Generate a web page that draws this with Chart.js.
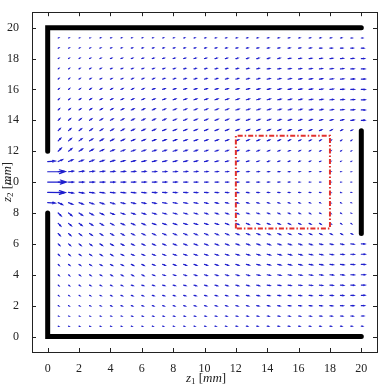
<!DOCTYPE html>
<html>
<head>
<meta charset="utf-8">
<script src="https://cdn.jsdelivr.net/npm/chart.js@4.4.0/dist/chart.umd.min.js"></script>
<style>
  html, body { margin: 0; padding: 0; background: #fff; }
  #wrap { width: 381px; height: 385px; }
</style>
</head>
<body>
<div id="wrap"><canvas id="quiverChart" width="381" height="385"></canvas></div>
<script>
// grid of the vector field (mm)
const gridX = [0, 0.67, 1.33, 2, 2.67, 3.33, 4, 4.67, 5.33, 6, 6.67, 7.33, 8, 8.67, 9.33, 10,
  10.67, 11.33, 12, 12.67, 13.33, 14, 14.67, 15.33, 16, 16.67, 17.33, 18, 18.67, 19.33, 20];
// rows from top (z2 = 20) to bottom (z2 = 0)
const gridY = [20, 19.33, 18.67, 18, 17.33, 16.67, 16, 15.33, 14.67, 14, 13.33, 12.67, 12, 11.33,
  10.67, 10, 9.33, 8.67, 8, 7.33, 6.67, 6, 5.33, 4.67, 4, 3.33, 2.67, 2, 1.33, 0.67, 0];

// arrow components (arbitrary velocity units)
const uRows = [
  [0,0,0,0,0,0,0,0,0,0,0,0,0,0,0,0,0,0,0,0,0,0,0,0,0,0,0,0,0,0,0],
  [0, .3,.3,.4,.4, .5,.5,.5,.5,.5,.5,.6,.6, .7,.7,.8,.8,.8,.9,.9,.9, 1,1,1,1,1,1, 1,1,1, 1],
  [0, .4,.5,.5,.5, .6,.7,.7,.8,.8,.9,.9,1, 1,1,1.1,1.1,1.2,1.2,1.3,1.3, 1.4,1.4,1.5,1.5,1.6,1.6, 1.7,1.7,1.8, 2],
  [0, .5,.5,.6,.7, .8,.9,1,1,1.1,1.1,1.2,1.2, 1.3,1.4,1.4,1.5,1.5,1.6,1.6,1.7, 1.8,1.8,1.9,1.9,2,2, 2.1,2.2,2.3, 2.5],
  [0, .5,.6,.7,.8, .9,1,1.1,1.2,1.2,1.3,1.4,1.4, 1.5,1.6,1.6,1.7,1.7,1.8,1.9,1.9, 2,2,2.1,2.1,2.2,2.2, 2.3,2.4,2.5, 2.8],
  [0, .6,.7,.8,1, 1.1,1.2,1.3,1.4,1.4,1.5,1.6,1.6, 1.7,1.8,1.8,1.9,1.9,2,2,2.1, 2.2,2.2,2.3,2.3,2.4,2.4, 2.5,2.6,2.7, 3],
  [0, .7,.8,1,1.1, 1.3,1.4,1.5,1.6,1.6,1.7,1.8,1.8, 1.9,2,2,2.1,2.1,2.2,2.2,2.3, 2.3,2.4,2.4,2.5,2.5,2.5, 2.6,2.7,2.8, 3],
  [0, .8,1,1.2,1.3, 1.5,1.6,1.7,1.8,1.8,1.9,2,2, 2.1,2.1,2.2,2.2,2.3,2.3,2.3,2.4, 2.4,2.5,2.5,2.5,2.6,2.6, 2.6,2.7,2.8, 3],
  [0, 1,1.2,1.4,1.5, 1.7,1.8,1.9,2,2,2.1,2.1,2.2, 2.2,2.2,2.3,2.3,2.3,2.4,2.4,2.4, 2.5,2.5,2.5,2.5,2.5,2.5, 2.5,2.6,2.7, 3],
  [0, 1.3,1.5,1.6,1.7, 1.9,2,2.1,2.1,2.2,2.2,2.3,2.3, 2.3,2.4,2.4,2.4,2.4,2.4,2.4,2.4, 2.4,2.4,2.4,2.3,2.3,2.2, 2.2,2.3,2.5, 2.8],
  [0, 1.6,1.8,1.9,2, 2.1,2.2,2.3,2.3,2.4,2.4,2.4,2.4, 2.4,2.4,2.4,2.4,2.4,2.3,2.3,2.3, 2.2,2.2,2.1,2,1.9,1.8, 1.6,1.4,1.2, 0],
  [0, 2,2.2,2.3,2.4, 2.5,2.5,2.6,2.6,2.6,2.6,2.6,2.6, 2.5,2.5,2.4,2.4,2.3,2.2,2.1,2, 1.9,1.8,1.7,1.5,1.4,1.2, 1,.8,.6, 0],
  [0, 2.4,2.6,2.7,2.8, 2.8,2.8,2.8,2.8,2.8,2.8,2.7,2.7, 2.6,2.5,2.4,2.3,2.2,2.1,2,1.8, 1.7,1.5,1.4,1.2,1,.9, .7,.5,.4, 0],
  [6, 3.4,3.3,3.2,3.2, 3.1,3.1,3,3,3,2.9,2.9,2.8, 2.7,2.6,2.4,2.3,2.1,2,1.8,1.6, 1.5,1.3,1.2,1,.9,.8, .6,.4,.3, 0],
  [14, 3.9,3.8,3.7,3.6, 3.5,3.4,3.4,3.3,3.2,3.2,3.1,3, 2.9,2.8,2.6,2.4,2.2,2,1.8,1.7, 1.5,1.4,1.2,1.1,.9,.8, .6,.4,.3, 0],
  [15, 4.1,3.9,3.8,3.7, 3.6,3.5,3.4,3.3,3.3,3.2,3.1,3, 2.9,2.8,2.6,2.4,2.2,2,1.8,1.7, 1.5,1.4,1.2,1,.9,.8, .6,.4,.2, 0],
  [14, 3.9,3.8,3.7,3.6, 3.5,3.4,3.4,3.3,3.2,3.2,3.1,3, 2.9,2.8,2.6,2.4,2.2,2,1.8,1.7, 1.5,1.4,1.2,1.1,.9,.8, .6,.4,.3, 0],
  [6, 3.4,3.3,3.2,3.2, 3.1,3.1,3,3,3,2.9,2.9,2.8, 2.7,2.6,2.4,2.3,2.1,2,1.8,1.6, 1.5,1.3,1.2,1,.9,.8, .6,.4,.3, 0],
  [0, 2.4,2.6,2.7,2.8, 2.8,2.8,2.8,2.8,2.8,2.8,2.7,2.7, 2.6,2.5,2.4,2.3,2.2,2.1,2,1.8, 1.7,1.5,1.4,1.2,1,.9, .7,.5,.4, 0],
  [0, 2,2.2,2.3,2.4, 2.5,2.5,2.6,2.6,2.6,2.6,2.6,2.6, 2.5,2.5,2.4,2.4,2.3,2.2,2.1,2, 1.9,1.8,1.7,1.5,1.4,1.2, 1,.8,.6, 0],
  [0, 1.6,1.8,1.9,2, 2.1,2.2,2.3,2.3,2.4,2.4,2.4,2.4, 2.4,2.4,2.4,2.4,2.4,2.3,2.3,2.3, 2.2,2.2,2.1,2,1.9,1.8, 1.6,1.4,1.2, 0],
  [0, 1.3,1.5,1.6,1.7, 1.9,2,2.1,2.1,2.2,2.2,2.3,2.3, 2.3,2.4,2.4,2.4,2.4,2.4,2.4,2.4, 2.4,2.4,2.4,2.3,2.3,2.2, 2.2,2.3,2.5, 2.8],
  [0, 1,1.2,1.4,1.5, 1.7,1.8,1.9,2,2,2.1,2.1,2.2, 2.2,2.2,2.3,2.3,2.3,2.4,2.4,2.4, 2.5,2.5,2.5,2.5,2.5,2.5, 2.5,2.6,2.7, 3],
  [0, .8,1,1.2,1.3, 1.5,1.6,1.7,1.8,1.8,1.9,2,2, 2.1,2.1,2.2,2.2,2.3,2.3,2.3,2.4, 2.4,2.5,2.5,2.5,2.6,2.6, 2.6,2.7,2.8, 3],
  [0, .7,.8,1,1.1, 1.3,1.4,1.5,1.6,1.6,1.7,1.8,1.8, 1.9,2,2,2.1,2.1,2.2,2.2,2.3, 2.3,2.4,2.4,2.5,2.5,2.5, 2.6,2.7,2.8, 3],
  [0, .6,.7,.8,1, 1.1,1.2,1.3,1.4,1.4,1.5,1.6,1.6, 1.7,1.8,1.8,1.9,1.9,2,2,2.1, 2.2,2.2,2.3,2.3,2.4,2.4, 2.5,2.6,2.7, 3],
  [0, .5,.6,.7,.8, .9,1,1.1,1.2,1.2,1.3,1.4,1.4, 1.5,1.6,1.6,1.7,1.7,1.8,1.9,1.9, 2,2,2.1,2.1,2.2,2.2, 2.3,2.4,2.5, 2.8],
  [0, .5,.5,.6,.7, .8,.9,1,1,1.1,1.1,1.2,1.2, 1.3,1.4,1.4,1.5,1.5,1.6,1.6,1.7, 1.8,1.8,1.9,1.9,2,2, 2.1,2.2,2.3, 2.5],
  [0, .4,.5,.5,.5, .6,.7,.7,.8,.8,.9,.9,1, 1,1,1.1,1.1,1.2,1.2,1.3,1.3, 1.4,1.4,1.5,1.5,1.6,1.6, 1.7,1.7,1.8, 2],
  [0, .3,.3,.4,.4, .5,.5,.5,.5,.5,.5,.6,.6, .7,.7,.8,.8,.8,.9,.9,.9, 1,1,1,1,1,1, 1,1,1, 1],
  [0,0,0,0,0,0,0,0,0,0,0,0,0,0,0,0,0,0,0,0,0,0,0,0,0,0,0,0,0,0,0]
];

const vRows = [
  [0,0,0,0,0,0,0,0,0,0,0,0,0,0,0,0,0,0,0,0,0,0,0,0,0,0,0,0,0,0,0],
  [0, .1,.1,.1,.1, .1,.1,.1,.1,.1,.1,.1,.1, .1,.1,.1,.1,.1,.1,.1,.1, .1,.1,.1,.1,.1,.1, .1,.1,0, 0],
  [0, .2,.2,.2,.2, .2,.2,.2,.2,.2,.2,.2,.2, .2,.2,.2,.2,.2,.2,.2,.2, .2,.2,.2,.2,.2,.1, .1,.1,.1, 0],
  [0, .3,.3,.3,.3, .3,.3,.3,.3,.3,.3,.3,.3, .3,.3,.3,.3,.3,.3,.3,.3, .3,.3,.2,.2,.2,.2, .2,.1,.1, 0],
  [0, .4,.4,.4,.4, .4,.4,.4,.4,.4,.4,.4,.4, .4,.4,.4,.4,.4,.4,.4,.4, .3,.3,.3,.3,.3,.2, .2,.2,.1, 0],
  [0, .5,.5,.5,.5, .5,.5,.5,.5,.5,.5,.5,.5, .5,.5,.5,.5,.5,.5,.5,.5, .4,.4,.4,.3,.3,.3, .2,.2,.1, 0],
  [0, .6,.7,.7,.7, .7,.7,.7,.7,.7,.6,.6,.6, .6,.6,.6,.6,.6,.6,.6,.5, .5,.5,.4,.4,.4,.3, .3,.2,.1, 0],
  [0, .8,.8,.8,.8, .8,.8,.8,.8,.8,.7,.7,.7, .7,.7,.7,.7,.7,.7,.6,.6, .6,.5,.5,.5,.4,.4, .3,.3,.2, 0],
  [0, 1,1,1,1, 1,1,.9,.9,.9,.9,.8,.8, .8,.8,.8,.8,.8,.7,.7,.7, .7,.6,.6,.6,.5,.5, .4,.3,.2, 0],
  [0, 1.3,1.3,1.3,1.2, 1.2,1.1,1.1,1,1,1,1,.9, .9,.9,.9,.9,.9,.8,.8,.8, .8,.7,.7,.7,.7,.6, .6,.5,.3, .1],
  [0, 1.7,1.6,1.5,1.4, 1.3,1.2,1.2,1.1,1.1,1.1,1,1, 1,1,1,1,1,.9,.9,.9, .9,.9,.8,.8,.8,.8, .8,.7,.5, 0],
  [0, 2.1,1.9,1.7,1.5, 1.4,1.3,1.2,1.1,1.1,1,1,1, .9,.9,.9,.9,.9,.9,.9,.8, .8,.8,.8,.7,.7,.7, .6,.5,.4, 0],
  [0, 2.4,2.1,1.8,1.5, 1.3,1.1,1,.9,.9,.8,.8,.8, .8,.8,.7,.7,.7,.7,.6,.6, .6,.6,.5,.5,.5,.4, .4,.3,.2, 0],
  [.4, 1.6,1.4,1.2,1.1, 1,.9,.8,.7,.6,.6,.5,.5, .5,.5,.5,.4,.4,.4,.4,.4, .3,.3,.3,.3,.3,.2, .2,.2,.1, 0],
  [.1, .6,.5,.5,.4, .4,.3,.3,.3,.3,.2,.2,.2, .2,.2,.2,.2,.2,.2,.2,.1, .1,.1,.1,.1,.1,.1, .1,.1,0, 0],
  [0,0,0,0,0,0,0,0,0,0,0,0,0,0,0,0,0,0,0,0,0,0,0,0,0,0,0,0,0,0,0],
  [-.1, -.6,-.5,-.5,-.4, -.4,-.3,-.3,-.3,-.3,-.2,-.2,-.2, -.2,-.2,-.2,-.2,-.2,-.2,-.2,-.1, -.1,-.1,-.1,-.1,-.1,-.1, -.1,-.1,0, 0],
  [-.4, -1.6,-1.4,-1.2,-1.1, -1,-.9,-.8,-.7,-.6,-.6,-.5,-.5, -.5,-.5,-.5,-.4,-.4,-.4,-.4,-.4, -.3,-.3,-.3,-.3,-.3,-.2, -.2,-.2,-.1, 0],
  [0, -2.4,-2.1,-1.8,-1.5, -1.3,-1.1,-1,-.9,-.9,-.8,-.8,-.8, -.8,-.8,-.7,-.7,-.7,-.7,-.6,-.6, -.6,-.6,-.5,-.5,-.5,-.4, -.4,-.3,-.2, 0],
  [0, -2.1,-1.9,-1.7,-1.5, -1.4,-1.3,-1.2,-1.1,-1.1,-1,-1,-1, -.9,-.9,-.9,-.9,-.9,-.9,-.9,-.8, -.8,-.8,-.8,-.7,-.7,-.7, -.6,-.5,-.4, 0],
  [0, -1.7,-1.6,-1.5,-1.4, -1.3,-1.2,-1.2,-1.1,-1.1,-1.1,-1,-1, -1,-1,-1,-1,-1,-.9,-.9,-.9, -.9,-.9,-.8,-.8,-.8,-.8, -.8,-.7,-.5, 0],
  [0, -1.3,-1.3,-1.3,-1.2, -1.2,-1.1,-1.1,-1,-1,-1,-1,-.9, -.9,-.9,-.9,-.9,-.9,-.8,-.8,-.8, -.8,-.7,-.7,-.7,-.7,-.6, -.6,-.5,-.3, -.1],
  [0, -1,-1,-1,-1, -1,-1,-.9,-.9,-.9,-.9,-.8,-.8, -.8,-.8,-.8,-.8,-.8,-.7,-.7,-.7, -.7,-.6,-.6,-.6,-.5,-.5, -.4,-.3,-.2, 0],
  [0, -.8,-.8,-.8,-.8, -.8,-.8,-.8,-.8,-.8,-.7,-.7,-.7, -.7,-.7,-.7,-.7,-.7,-.7,-.6,-.6, -.6,-.5,-.5,-.5,-.4,-.4, -.3,-.3,-.2, 0],
  [0, -.6,-.7,-.7,-.7, -.7,-.7,-.7,-.7,-.7,-.6,-.6,-.6, -.6,-.6,-.6,-.6,-.6,-.6,-.6,-.5, -.5,-.5,-.4,-.4,-.4,-.3, -.3,-.2,-.1, 0],
  [0, -.5,-.5,-.5,-.5, -.5,-.5,-.5,-.5,-.5,-.5,-.5,-.5, -.5,-.5,-.5,-.5,-.5,-.5,-.5,-.5, -.4,-.4,-.4,-.3,-.3,-.3, -.2,-.2,-.1, 0],
  [0, -.4,-.4,-.4,-.4, -.4,-.4,-.4,-.4,-.4,-.4,-.4,-.4, -.4,-.4,-.4,-.4,-.4,-.4,-.4,-.4, -.3,-.3,-.3,-.3,-.3,-.2, -.2,-.2,-.1, 0],
  [0, -.3,-.3,-.3,-.3, -.3,-.3,-.3,-.3,-.3,-.3,-.3,-.3, -.3,-.3,-.3,-.3,-.3,-.3,-.3,-.3, -.3,-.3,-.2,-.2,-.2,-.2, -.2,-.1,-.1, 0],
  [0, -.2,-.2,-.2,-.2, -.2,-.2,-.2,-.2,-.2,-.2,-.2,-.2, -.2,-.2,-.2,-.2,-.2,-.2,-.2,-.2, -.2,-.2,-.2,-.2,-.2,-.1, -.1,-.1,-.1, 0],
  [0, -.1,-.1,-.1,-.1, -.1,-.1,-.1,-.1,-.1,-.1,-.1,-.1, -.1,-.1,-.1,-.1,-.1,-.1,-.1,-.1, -.1,-.1,-.1,-.1,-.1,-.1, -.1,-.1,0, 0],
  [0,0,0,0,0,0,0,0,0,0,0,0,0,0,0,0,0,0,0,0,0,0,0,0,0,0,0,0,0,0,0]
];
const arrowScale = 0.08; // mm of arrow per velocity unit

// walls of the domain and the region of interest (mm)
const wallTop = [[0, 12], [0, 20], [20, 20]];
const wallBottom = [[0, 8], [0, 0], [20, 0]];
const wallRight = [[20, 6.67], [20, 13.33]];
const targetBox = [[12, 7], [12, 13], [18, 13], [18, 7], [12, 7]];

const xTicks = [0, 2, 4, 6, 8, 10, 12, 14, 16, 18, 20];
const yTicks = [0, 2, 4, 6, 8, 10, 12, 14, 16, 18, 20];

const serif = "'Liberation Serif', 'DejaVu Serif', serif";
const arrowColor = "rgb(30,30,205)";

const toPoints = (arr) => arr.map((p) => ({ x: p[0], y: p[1] }));

const wallStyle = {
  showLine: true,
  borderColor: "#000",
  borderWidth: 5,
  borderCapStyle: "round",
  borderJoinStyle: "miter",
  pointRadius: 0,
};

// vector field, drawn under the walls
const quiverPlugin = {
  id: "quiver",
  beforeDatasetsDraw(chart) {
    const { ctx } = chart;
    const xs = chart.scales.x;
    const ys = chart.scales.y;
    ctx.save();
    ctx.strokeStyle = arrowColor;
    ctx.lineWidth = 1.2;
    ctx.lineCap = "round";
    gridY.forEach((gy, r) => {
      gridX.forEach((gx, c) => {
        const du = uRows[r][c] * arrowScale;
        const dv = vRows[r][c] * arrowScale;
        if (du === 0 && dv === 0) return;
        const x0 = xs.getPixelForValue(gx);
        const y0 = ys.getPixelForValue(gy);
        const x1 = xs.getPixelForValue(gx + du);
        const y1 = ys.getPixelForValue(gy + dv);
        const dx = x1 - x0;
        const dy = y1 - y0;
        ctx.beginPath();
        ctx.moveTo(x0, y0);
        ctx.lineTo(x1, y1);
        // matlab-like head, alpha = beta = 0.33
        ctx.moveTo(x1 - 0.33 * (dx + 0.33 * dy), y1 - 0.33 * (dy - 0.33 * dx));
        ctx.lineTo(x1, y1);
        ctx.lineTo(x1 - 0.33 * (dx - 0.33 * dy), y1 - 0.33 * (dy + 0.33 * dx));
        ctx.stroke();
      });
    });
    ctx.restore();
  },
};

function drawRich(ctx, parts, cx, cy) {
  let w = 0;
  parts.forEach((p) => {
    ctx.font = p.font;
    w += ctx.measureText(p.text).width;
  });
  let xp = cx - w / 2;
  parts.forEach((p) => {
    ctx.font = p.font;
    ctx.fillText(p.text, xp, cy + (p.shift || 0));
    xp += ctx.measureText(p.text).width;
  });
}

function axisTitle(sub) {
  return [
    { text: "z", font: "italic 13px " + serif },
    { text: sub, font: "9px " + serif, shift: 3 },
    { text: " [", font: "13px " + serif },
    { text: "mm", font: "italic 13px " + serif },
    { text: "]", font: "13px " + serif },
  ];
}

// box with inward ticks on all sides, plus axis titles
const framePlugin = {
  id: "frame",
  afterDraw(chart) {
    const { ctx, chartArea: a } = chart;
    const xs = chart.scales.x;
    const ys = chart.scales.y;
    ctx.save();
    ctx.strokeStyle = "#222";
    ctx.lineWidth = 1;
    ctx.strokeRect(Math.round(a.left) + 0.5, Math.round(a.top) + 0.5,
      Math.round(a.right - a.left), Math.round(a.bottom - a.top));
    ctx.beginPath();
    xTicks.forEach((t) => {
      const px = Math.round(xs.getPixelForValue(t)) + 0.5;
      ctx.moveTo(px, a.bottom); ctx.lineTo(px, a.bottom - 4);
      ctx.moveTo(px, a.top); ctx.lineTo(px, a.top + 4);
    });
    yTicks.forEach((t) => {
      const py = Math.round(ys.getPixelForValue(t)) + 0.5;
      ctx.moveTo(a.left, py); ctx.lineTo(a.left + 4, py);
      ctx.moveTo(a.right, py); ctx.lineTo(a.right - 4, py);
    });
    ctx.stroke();

    ctx.fillStyle = "#222";
    ctx.textBaseline = "middle";
    drawRich(ctx, axisTitle("1"), 206, 379);
    ctx.translate(8, 182);
    ctx.rotate(-Math.PI / 2);
    drawRich(ctx, axisTitle("2"), 0, 0);
    ctx.restore();
  },
};

const ctx = document.getElementById("quiverChart");

new Chart(ctx, {
  type: "scatter",
  data: {
    datasets: [
      { data: toPoints(wallTop), ...wallStyle },
      { data: toPoints(wallBottom), ...wallStyle },
      { data: toPoints(wallRight), ...wallStyle },
      {
        data: toPoints(targetBox),
        showLine: true,
        borderColor: "#e2302c",
        borderWidth: 2,
        borderDash: [5, 2, 1.5, 2],
        pointRadius: 0,
      },
    ],
  },
  options: {
    responsive: false,
    animation: false,
    layout: { padding: { top: 10, right: 4, left: 0, bottom: 0 } },
    plugins: {
      legend: { display: false },
      tooltip: { enabled: false },
    },
    scales: {
      x: {
        type: "linear",
        min: -1,
        max: 21,
        grid: { display: false },
        border: { display: false },
        afterBuildTicks: (s) => { s.ticks = xTicks.map((v) => ({ value: v })); },
        afterFit: (s) => { s.height = 33; },
        ticks: { padding: 2, color: "#222", font: { family: serif, size: 12 } },
      },
      y: {
        type: "linear",
        min: -1,
        max: 21,
        grid: { display: false },
        border: { display: false },
        afterBuildTicks: (s) => { s.ticks = yTicks.map((v) => ({ value: v })); },
        afterFit: (s) => { s.width = 32; },
        ticks: { padding: 5, color: "#222", font: { family: serif, size: 12 } },
      },
    },
  },
  plugins: [quiverPlugin, framePlugin],
});
</script>
</body>
</html>
